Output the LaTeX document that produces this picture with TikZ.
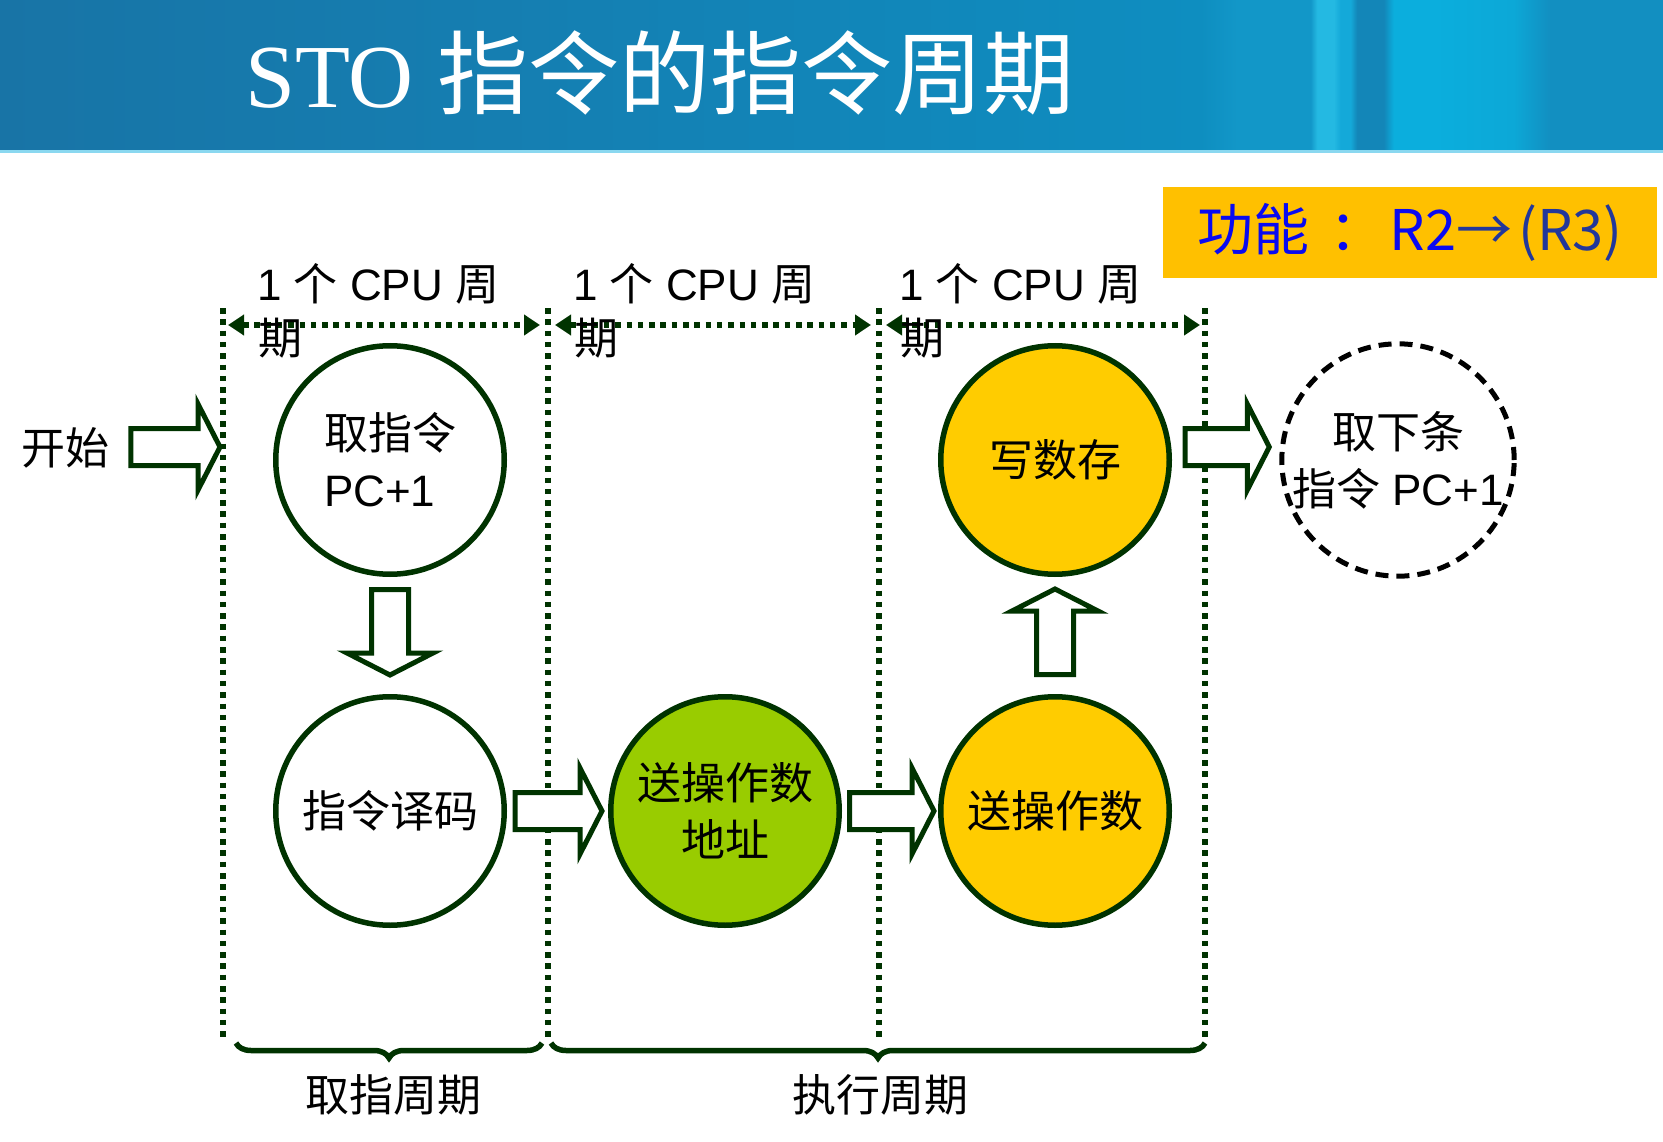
\documentclass[tikz,border=0pt]{standalone}
\usepackage{fontspec}
\setmainfont{Liberation Sans}
\newfontfamily\cjk{Noto Sans CJK SC}
\newfontfamily\cjktitle{Noto Sans CJK SC}
\newfontfamily\titleserif{Liberation Serif}
\usetikzlibrary{calc,arrows.meta,decorations.pathreplacing}

\definecolor{dkgreen}{HTML}{003300}
\definecolor{circyellow}{HTML}{FFCC00}
\definecolor{circgreen}{HTML}{99CC00}
\definecolor{boxyellow}{HTML}{FFC000}
\definecolor{fnblue}{HTML}{0A0AF0}
\definecolor{fnnavy}{HTML}{22379A}
\definecolor{glow}{HTML}{8AD8F0}
% header band colours, left to right
\definecolor{hdA}{HTML}{1874A6}
\definecolor{hdB}{HTML}{157EB1}
\definecolor{hdC}{HTML}{1089BC}
\definecolor{hdD}{HTML}{0E8EC0}
\definecolor{hdE}{HTML}{1297C8}
\definecolor{hdF}{HTML}{24B9E2}
\definecolor{hdG}{HTML}{14A9D9}
\definecolor{hdH}{HTML}{1386B8}
\definecolor{hdI}{HTML}{0BAEDD}
\definecolor{hdJ}{HTML}{0CA8D7}
\definecolor{hdK}{HTML}{128FC1}

\pgfdeclarehorizontalshading{hdrshade}{100bp}{%
  color(0bp)=(hdA); color(25bp)=(hdA); color(40bp)=(hdB); color(55bp)=(hdC);
  color(61.1bp)=(hdD); color(62.2bp)=(hdE); color(64.4bp)=(hdE);
  color(64.6bp)=(hdF); color(65.1bp)=(hdF); color(65.3bp)=(hdG);
  color(65.6bp)=(hdG); color(65.8bp)=(hdH); color(66.6bp)=(hdH);
  color(66.9bp)=(hdI); color(68.1bp)=(hdI); color(70.5bp)=(hdJ);
  color(71.6bp)=(hdK); color(75bp)=(hdK); color(100bp)=(hdK)}

% hollow block arrow: from, to, gap at start, gap at end
\newcommand\blockarr[4]{%
  \path ($(#1)!#3!(#2)$) coordinate (ba-s) ($(#2)!#4!(#1)$) coordinate (ba-t);
  \path ($(ba-t)!22pt!(ba-s)$) coordinate (ba-b);
  \draw[blockarrow]
    ($(ba-s)!18.5pt!90:(ba-t)$) -- ($(ba-b)!18.5pt!90:(ba-t)$)
    -- ($(ba-b)!43pt!90:(ba-t)$) -- (ba-t)
    -- ($(ba-b)!43pt!-90:(ba-t)$) -- ($(ba-b)!18.5pt!-90:(ba-t)$)
    -- ($(ba-s)!18.5pt!-90:(ba-t)$) -- cycle;
}

\begin{document}
\begin{tikzpicture}[x=1pt,y=-1pt,
  colsep/.style={draw=dkgreen, line width=5.5pt, dash pattern=on 5.5pt off 5.8pt},
  cyclearrow/.style={colsep,
    {Triangle[length=16pt,width=20pt]}-{Triangle[length=16pt,width=20pt]}},
  stage/.style={circle, draw=dkgreen, line width=5.5pt, minimum size=228.5pt,
    inner sep=0pt, align=center, font=\fontsize{44}{57}\selectfont},
  nextstage/.style={stage, draw=black, line width=5pt, dash pattern=on 13pt off 8pt},
  txt/.style={inner sep=0pt, anchor=base west, font=\fontsize{44}{55}\selectfont},
  captxt/.style={inner sep=0pt, anchor=base, font=\fontsize{44}{55}\selectfont},
  blockarrow/.style={draw=dkgreen, line width=5pt, fill=white, line join=miter},
  cycbrace/.style={draw=dkgreen, line width=5.5pt, decorate,
    decoration={brace, amplitude=15pt, mirror}},
]
\useasboundingbox (0,0) rectangle (1663,1142);
\fill[white] (0,0) rectangle (1663,1142);

% header band and title
\shade[shading=hdrshade] (0,0) rectangle (1663,151);
\fill[glow] (0,150) rectangle (1663,153);
\node[anchor=base west, inner sep=0pt, text=white] (title) at (245,108)
  {\titleserif\fontsize{90}{90}\selectfont STO\hspace{24pt}{\cjktitle\fontsize{91}{91}\selectfont 指令的指令周期}};

% function box
\node[fill=boxyellow, minimum width=494pt, minimum height=91pt, inner sep=0pt,
  anchor=north west] (fnbox) at (1163,187)
  {\cjk\fontsize{56}{56}\selectfont\color{fnblue}功能\hspace{20pt}：\hspace{4pt}R2\color{fnnavy}→\hspace{6pt}(R3)};

% cycle boundaries
\coordinate (v1t) at (223,308); \coordinate (v1b) at (223,1040);
\coordinate (v2t) at (548,308); \coordinate (v2b) at (548,1040);
\coordinate (v3t) at (879,308); \coordinate (v3b) at (879,1040);
\coordinate (v4t) at (1205,308); \coordinate (v4b) at (1205,1040);
\draw[colsep] (v1t) -- (v1b);
\draw[colsep] (v2t) -- (v2b);
\draw[colsep] (v3t) -- (v3b);
\draw[colsep] (v4t) -- (v4b);

% one CPU cycle spans
\draw[cyclearrow] ($(v1t)+(5,17)$) -- ($(v2t)+(-8,17)$);
\draw[cyclearrow] ($(v2t)+(7,17)$) -- ($(v3t)+(-8,17)$);
\draw[cyclearrow] ($(v3t)+(7,17)$) -- ($(v4t)+(-5,17)$);

% stages
\node[stage, align=left] (fetch) at (390,460) {{\cjk 取指令}\\PC+1};
\node[stage] (decode) at (390,811) {\cjk 指令译码};
\node[stage, fill=circgreen] (addr) at (725,811) {{\cjk 送操作数}\\{\cjk 地址}};
\node[stage, fill=circyellow] (operand) at (1055,811) {\cjk 送操作数};
\node[stage, fill=circyellow] (write) at (1055,460) {\cjk 写数存};
\node[nextstage] (next) at (1398,460) {{\cjk 取下条}\\{\cjk 指令} PC+1};

\node[txt] (start) at (21,464) {\cjk 开始};

% flow arrows
\coordinate (start-in) at ($(fetch.west)+(0,-13)$);
\coordinate (start-out) at (start.east |- start-in);
\blockarr{start-out}{start-in}{21.5pt}{53pt}
\blockarr{fetch.south}{decode.north}{12.5pt}{19pt}
\blockarr{decode.east}{addr.west}{8pt}{6pt}
\blockarr{addr.east}{operand.west}{7.5pt}{4pt}
\blockarr{operand.north}{write.south}{19.5pt}{12pt}
\coordinate (wr-out) at ($(write.east)+(0,-13)$);
\coordinate (nx-in) at ($(next.west)+(0,-13)$);
\blockarr{wr-out}{nx-in}{13pt}{10pt}

% cycle labels
\node[txt] (cyc1a) at (257,300) {1 {\cjk 个} CPU {\cjk 周}};
\node[txt] (cyc1b) at (258,354) {\cjk 期};
\node[txt] (cyc2a) at (573,300) {1 {\cjk 个} CPU {\cjk 周}};
\node[txt] (cyc2b) at (574,354) {\cjk 期};
\node[txt] (cyc3a) at (899,300) {1 {\cjk 个} CPU {\cjk 周}};
\node[txt] (cyc3b) at (900,354) {\cjk 期};

% machine cycles
\draw[cycbrace] ($(v1b)+(13,3)$) coordinate (b1l) -- ($(v2b)+(-6,3)$) coordinate (b1r);
\draw[cycbrace] ($(v2b)+(3,3)$) coordinate (b2l) -- ($(v4b)+(0,3)$) coordinate (b2r);
\node[captxt] (fetchcyc) at ($(b1l)!0.5!(b1r)+(4,68)$) {\cjk 取指周期};
\node[captxt] (execcyc) at ($(b2l)!0.5!(b2r)+(2,68)$) {\cjk 执行周期};
\end{tikzpicture}
\end{document}
